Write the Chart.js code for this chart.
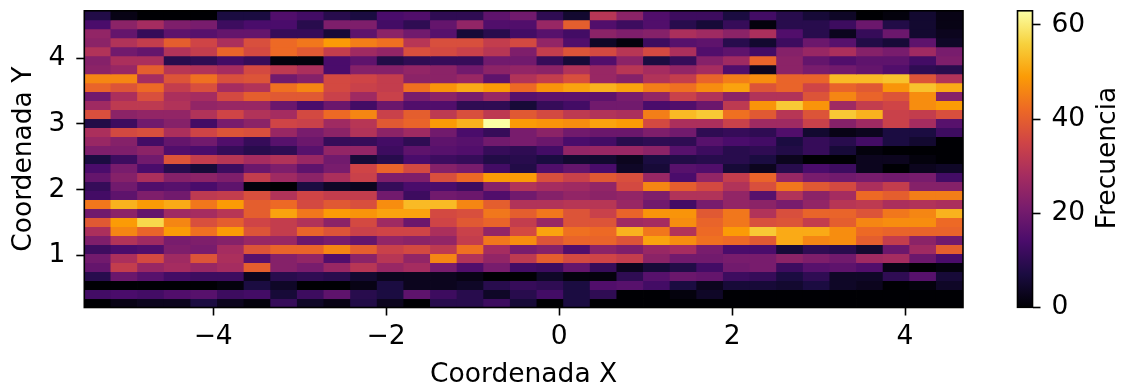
<!DOCTYPE html>
<html>
<head>
<meta charset="utf-8">
<title>Frecuencia</title>
<script src="https://cdn.jsdelivr.net/npm/chart.js@4"></script>
<style>
    html, body { margin: 0; padding: 0; background: #fff; }
    #contenedor { position: relative; width: 1121px; height: 385px; overflow: hidden; }
    canvas { position: absolute; top: 0; }
    #mapa { left: 0; }
    #barra { left: 1000px; }
</style>
</head>
<body>
<div id="contenedor">
    <canvas id="mapa"></canvas>
    <canvas id="barra"></canvas>
</div>
<script>
// Limites de los ejes
const xMin = -5.49, xMax = 4.67;
const yMin = 0.21, yMax = 4.72;

const ticksX = [-4, -2, 0, 2, 4];
const ticksY = [1, 2, 3, 4];
const ticksBarra = [0, 20, 40, 60];
const frecuenciaMax = 63;

// Frecuencias, primera fila = arriba
const frecuencias = [
    [8,2,0,0,0,7,7,15,13,9,7,14,15,10,10,17,20,10,5,31,24,15,12,12,7,13,9,6,4,0,1,5,2],
    [14,24,28,22,21,12,14,14,9,22,22,13,10,18,25,15,15,26,40,15,12,15,9,6,11,1,9,9,12,19,8,5,2],
    [25,18,11,17,16,18,18,11,11,6,17,24,20,16,6,9,13,16,13,24,22,23,29,27,24,29,15,9,3,11,19,5,3],
    [24,30,33,40,35,29,37,42,44,49,45,43,31,37,37,33,36,25,15,4,1,12,16,17,9,5,12,19,16,8,6,17,4],
    [30,20,18,30,33,41,36,42,39,33,27,25,37,36,34,31,22,33,38,36,31,36,29,15,17,13,23,26,29,23,21,27,21],
    [23,29,29,9,10,13,11,1,1,14,17,8,10,11,11,20,20,11,6,15,24,7,11,23,27,41,24,18,15,17,17,13,22],
    [24,26,40,31,30,28,36,32,29,14,23,23,25,24,20,24,25,24,30,26,31,28,25,28,15,3,24,21,20,18,15,10,9],
    [46,46,28,38,43,37,38,20,23,36,35,33,24,24,26,17,30,33,37,26,23,30,33,41,45,47,41,41,53,53,54,38,30],
    [41,38,42,33,37,28,30,43,46,36,34,33,43,48,51,49,42,48,50,52,50,45,43,47,50,38,41,35,41,39,48,54,51],
    [20,29,37,29,28,36,40,39,39,34,27,34,21,24,21,26,16,17,17,17,21,25,34,30,24,30,30,38,46,41,38,47,23],
    [27,32,32,30,25,26,26,19,14,19,13,19,15,15,10,10,6,11,13,20,20,14,15,19,32,48,55,48,27,33,35,47,49],
    [37,24,25,25,30,35,30,28,36,42,46,34,40,32,37,32,39,36,32,30,29,45,53,55,43,39,31,38,55,52,34,33,37],
    [8,12,20,23,13,21,24,35,34,27,31,39,41,49,52,63,49,48,47,50,49,36,29,29,34,27,27,34,23,27,34,28,16],
    [29,36,37,29,35,38,37,26,21,24,30,24,27,20,14,11,21,24,20,19,19,22,20,10,11,10,15,5,2,3,7,7,12],
    [26,23,13,18,20,15,11,16,19,11,11,13,10,17,16,20,21,19,14,13,9,10,10,16,14,13,7,11,9,13,7,5,0],
    [22,22,24,15,14,11,9,10,16,25,25,12,17,16,15,11,10,13,25,26,26,24,16,12,9,10,8,11,6,1,0,0,0],
    [7,12,20,38,33,31,28,30,26,20,6,9,14,12,11,8,9,7,5,5,3,7,8,9,9,7,3,0,0,3,3,1,0],
    [14,21,14,9,6,12,19,22,17,21,35,41,36,23,21,13,8,15,18,14,4,6,16,15,6,3,9,14,12,3,0,3,4],
    [18,23,29,23,24,22,33,27,24,29,34,22,22,37,42,49,49,37,34,39,37,26,14,25,33,41,26,21,20,21,20,21,13],
    [11,20,15,16,14,17,1,0,7,4,3,11,14,14,12,23,30,28,27,25,36,46,40,36,30,37,44,39,36,29,33,23,23],
    [13,17,22,20,32,33,37,30,35,33,33,20,12,20,19,15,20,23,25,24,25,22,30,30,25,16,30,24,28,42,40,45,45],
    [44,52,49,51,44,49,40,42,36,39,37,47,53,53,46,40,30,30,31,31,26,20,13,21,25,24,21,25,31,32,29,30,29],
    [20,24,18,27,28,31,40,50,44,49,48,50,50,36,37,44,40,44,38,34,41,48,48,39,44,30,37,41,41,38,44,46,52],
    [39,49,57,46,37,40,35,33,30,24,36,27,19,35,39,41,33,26,38,38,27,28,47,41,44,37,38,33,40,46,47,47,42],
    [29,46,41,49,43,49,38,33,41,38,34,35,35,29,34,25,36,50,43,42,52,44,30,42,49,55,51,51,47,42,41,41,41],
    [22,30,27,21,22,23,26,26,19,21,18,25,24,25,33,44,47,38,41,41,38,50,47,43,42,39,51,46,47,40,33,24,20],
    [12,14,15,22,21,28,38,41,41,46,40,34,36,32,43,28,21,23,15,24,22,26,28,21,14,14,6,10,9,5,19,27,40],
    [20,29,36,27,38,29,16,23,25,15,24,31,25,46,30,25,32,40,36,35,33,24,20,20,21,21,24,22,20,27,28,19,14],
    [18,33,26,28,26,28,40,23,21,26,31,26,28,21,15,21,13,12,18,11,3,6,8,13,20,21,12,16,17,15,2,0,1],
    [9,19,16,13,12,12,3,9,10,9,5,3,3,3,2,0,0,4,1,1,10,16,19,18,12,11,7,10,4,4,10,16,6],
    [0,0,0,0,0,1,7,4,0,0,2,7,3,3,4,9,11,10,7,15,16,13,7,3,6,6,5,7,4,3,0,1,4],
    [13,14,13,15,16,12,13,6,12,17,9,7,17,12,9,4,9,13,7,10,0,0,1,4,0,0,0,0,0,0,0,0,0],
    [0,2,3,3,7,3,1,11,4,2,8,3,0,9,9,12,6,0,7,0,0,0,0,0,0,0,0,0,0,0,0,0,0]
];

// Paleta inferno
const paleta = ['#000004', '#1b0c41', '#4a0c6b', '#781c6d', '#a52c60', '#cf4446', '#ed6925', '#fb9b06', '#f7d13d', '#fcffa4'];

function hexARgb(hex) {
    return [1, 3, 5].map(i => parseInt(hex.slice(i, i + 2), 16));
}

function colorDe(valor) {
    const t = Math.min(valor / frecuenciaMax, 1) * (paleta.length - 1);
    const i = Math.min(Math.floor(t), paleta.length - 2);
    const a = hexARgb(paleta[i]);
    const b = hexARgb(paleta[i + 1]);
    const c = a.map((v, k) => Math.round(v + (b[k] - v) * (t - i)));
    return `rgb(${c[0]},${c[1]},${c[2]})`;
}

const fuente = { family: '"DejaVu Sans"', size: 26.5 };
const menos = v => String(v).replace('-', '\u2212');

// Marco negro alrededor del area
const marco = {
    id: 'marco',
    afterDatasetsDraw(chart) {
        const { left, top, width, height } = chart.chartArea;
        const ctx = chart.ctx;
        ctx.save();
        ctx.strokeStyle = '#000';
        ctx.lineWidth = 1.6;
        ctx.strokeRect(left, top, width, height);
        ctx.restore();
    }
};

// Sin esto la etiqueta del ultimo tick empuja el area hacia abajo
function ajustarEscala(s, medida) {
    Object.assign(s, medida, { paddingTop: 0, paddingBottom: 0, paddingLeft: 0, paddingRight: 0 });
}

const anchoX = (xMax - xMin) / frecuencias[0].length;
const altoY = (yMax - yMin) / frecuencias.length;

const datasets = frecuencias.map((fila, f) => ({
    data: fila.map((v, c) => ({
        x: xMin + anchoX * (c + 0.5),
        y: [yMax - altoY * (f + 1), yMax - altoY * f]
    })),
    backgroundColor: fila.map(colorDe),
    borderWidth: 0,
    inflateAmount: 0.4,
    grouped: false,
    barPercentage: 1,
    categoryPercentage: 1
}));

const marcasEje = {
    drawOnChartArea: false,
    drawTicks: true,
    tickLength: 8,
    tickWidth: 1.6,
    tickColor: '#000'
};

function preparar(id, w, h) {
    const canvas = document.getElementById(id);
    canvas.width = w;
    canvas.height = h;
    return canvas;
}

new Chart(preparar('mapa', 1000, 385), {
    type: 'bar',
    data: { datasets },
    options: {
        responsive: false,
        animation: false,
        devicePixelRatio: 1,
        layout: { autoPadding: false, padding: { top: 10.8, right: 37, left: 0, bottom: 0 } },
        plugins: { legend: { display: false }, tooltip: { enabled: false } },
        scales: {
            x: {
                type: 'linear',
                offset: false,
                min: xMin,
                max: xMax,
                afterFit: s => ajustarEscala(s, { height: 77.5 }),
                afterBuildTicks: s => { s.ticks = ticksX.map(value => ({ value })); },
                ticks: { callback: menos, font: fuente, color: '#000', maxRotation: 0, autoSkip: false, padding: 6 },
                grid: { ...marcasEje, offset: false },
                border: { display: false },
                title: { display: true, text: 'Coordenada X', font: fuente, color: '#000', padding: { top: 0, bottom: -6 } }
            },
            y: {
                type: 'linear',
                min: yMin,
                max: yMax,
                afterFit: s => ajustarEscala(s, { width: 84.3 }),
                afterBuildTicks: s => { s.ticks = ticksY.map(value => ({ value })); },
                ticks: { font: fuente, color: '#000', autoSkip: false, padding: 11 },
                grid: marcasEje,
                border: { display: false },
                title: { display: true, text: 'Coordenada Y', font: fuente, color: '#000', padding: { top: 8, bottom: 0 } }
            }
        }
    },
    plugins: [marco]
});

// Titulo de la barra, girado hacia arriba
const tituloBarra = {
    id: 'tituloBarra',
    afterDraw(chart) {
        const ctx = chart.ctx;
        ctx.save();
        ctx.translate(108, 158);
        ctx.rotate(-Math.PI / 2);
        ctx.font = '26.5px "DejaVu Sans"';
        ctx.fillStyle = '#000';
        ctx.textAlign = 'center';
        ctx.textBaseline = 'middle';
        ctx.fillText('Frecuencia', 0, 0);
        ctx.restore();
    }
};

new Chart(preparar('barra', 121, 385), {
    type: 'bar',
    data: {
        labels: ['Frecuencia'],
        datasets: [{
            data: [[0, frecuenciaMax]],
            backgroundColor(ctx) {
                const area = ctx.chart.chartArea;
                if (!area) return '#000';
                const g = ctx.chart.ctx.createLinearGradient(0, area.bottom, 0, area.top);
                paleta.forEach((c, i) => g.addColorStop(i / (paleta.length - 1), c));
                return g;
            },
            borderWidth: 0,
            barPercentage: 1,
            categoryPercentage: 1
        }]
    },
    options: {
        responsive: false,
        animation: false,
        devicePixelRatio: 1,
        layout: { autoPadding: false, padding: { top: 10.8, left: 17.5, right: 0, bottom: 77.7 } },
        plugins: { legend: { display: false }, tooltip: { enabled: false } },
        scales: {
            x: { display: false },
            y: {
                position: 'right',
                min: 0,
                max: frecuenciaMax,
                afterFit: s => ajustarEscala(s, { width: 88.5 }),
                afterBuildTicks: s => { s.ticks = ticksBarra.map(value => ({ value })); },
                ticks: { font: fuente, color: '#000', autoSkip: false, padding: 11 },
                grid: marcasEje,
                border: { display: false }
            }
        }
    },
    plugins: [marco, tituloBarra]
});
</script>
</body>
</html>
